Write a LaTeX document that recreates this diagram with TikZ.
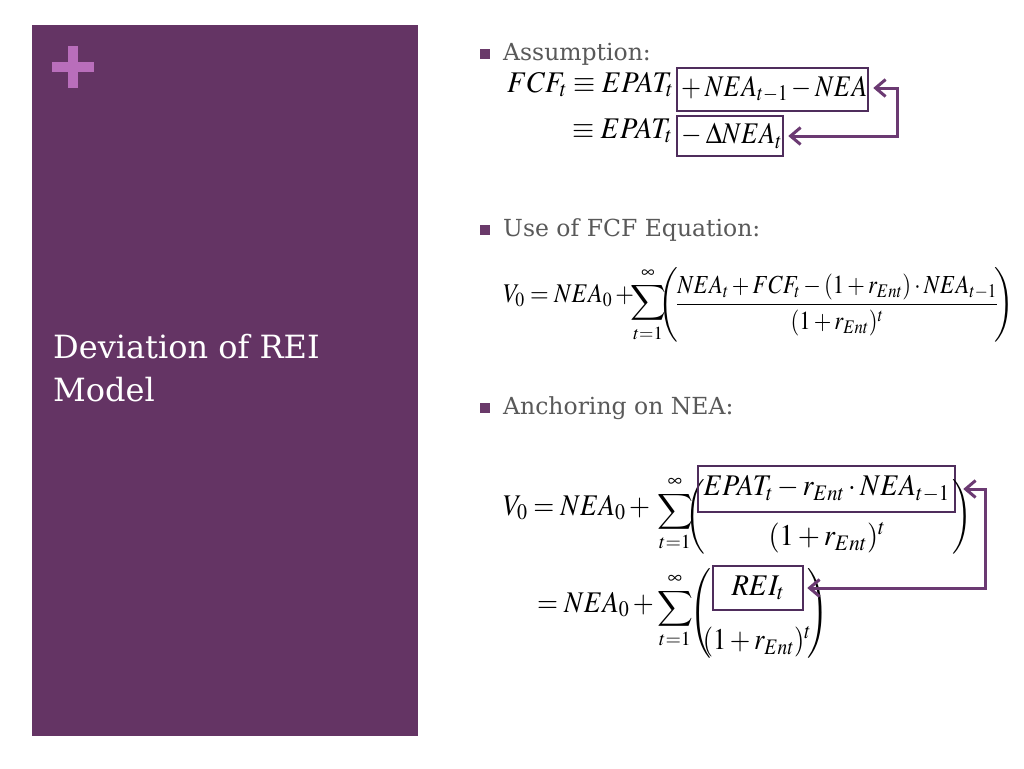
\documentclass[tikz,border=0pt]{standalone}
\usepackage{mathptmx}
\usepackage{exscale}
\usepackage{amsmath}
\usepackage[no-math]{fontspec}
\setmainfont{DejaVu Serif}
\usetikzlibrary{arrows.meta}
\definecolor{panel}{HTML}{643464}
\definecolor{plusc}{HTML}{B96EBB}
\definecolor{boxc}{HTML}{4F2D5C}
\definecolor{arrc}{HTML}{6B3A72}
\definecolor{bulc}{HTML}{6A3A6A}
\definecolor{textgray}{HTML}{595959}
\newcommand{\sqz}[2]{\scalebox{#1}[1]{#2}}
\newcommand{\bigsum}{\displaystyle\sum_{\scriptscriptstyle t=1}^{\scriptscriptstyle\infty}}
\tikzset{
  mathnode/.style={inner sep=0pt, font=\fontsize{30}{36}\selectfont},
  eqbox/.style={draw=boxc, line width=2.5pt, inner sep=0pt, font=\fontsize{30}{36}\selectfont},
  linkarrow/.style={draw=arrc, line width=3pt, {Straight Barb[length=10pt,width=17pt]}-{Straight Barb[length=10pt,width=17pt]}},
  bulletsq/.style={fill=bulc, minimum size=10pt, inner sep=0pt},
  bullettext/.style={text=textgray, font=\fontsize{23.5}{28}\selectfont, anchor=base west, inner sep=0pt},
}
\begin{document}
\begin{tikzpicture}[x=1pt, y=-1pt]
\useasboundingbox (0,0) rectangle (1024,768);
\fill[white] (0,0) rectangle (1024,768);
% left panel
\fill[panel] (31.5,25.5) rectangle (418,736);
\fill[plusc] (52,62) rectangle (94,72);
\fill[plusc] (68,46) rectangle (78,88);
\node[text=white, font=\fontsize{32}{43}\selectfont, align=left, anchor=north west, inner sep=0pt] (title) at (53,334) {Deviation of REI\\Model};
% bullets
\node[bulletsq] (b1) at (485,54) {};
\node[bullettext] (t1) at (503,60) {Assumption:};
\node[bulletsq] (b2) at (485,230) {};
\node[bullettext] (t2) at (503,236) {Use of FCF Equation:};
\node[bulletsq] (b3) at (485,408) {};
\node[bullettext] (t3) at (503,414) {Anchoring on NEA:};
% equation 1
\node[mathnode, anchor=base west] (e1a) at (507,92) {\sqz{0.95}{$FCF_t \equiv EPAT_t$}};
\node[eqbox, minimum width=191pt, minimum height=43pt] (box1) at (772.5,89.5) {\sqz{0.86}{${}+NEA_{t-1}-NEA$}};
\node[mathnode, anchor=base west] (e1b) at (572,138) {\sqz{0.95}{$\equiv EPAT_t$}};
\node[eqbox, minimum width=106pt, minimum height=40pt] (box2) at (730,136) {\sqz{0.88}{${}-\Delta NEA_t$}};
\coordinate (j1) at (897,88);
\draw[linkarrow] ([xshift=4pt]box1.east |- j1) -- (j1) |- ([xshift=4pt]box2.east);
% equation 2
\node[mathnode, anchor=base west, font=\fontsize{27}{32}\selectfont] (lhs2) at (503,302) {\sqz{0.89}{$V_0 = NEA_0 + {}$}};
\node[mathnode, font=\fontsize{25}{30}\selectfont] (sum2) at (648,305) {$\displaystyle\sum_{t=1}^{\infty}$};
\node[mathnode, font=\fontsize{26}{32}\selectfont] (lp2) at (668,305) {$\Biggl($};
\node[mathnode, font=\fontsize{26}{32}\selectfont] (frac2) at (837,305)
  {\sqz{0.87}{$\dfrac{NEA_t + FCF_t - (1+r_{Ent})\cdot NEA_{t-1}}{(1+r_{Ent})^{t}}$}};
\node[mathnode, font=\fontsize{26}{32}\selectfont] (rp2) at (1004,305) {$\Biggr)$};
% equation 3
\node[mathnode, anchor=base west] (lhs3) at (503,515) {\sqz{0.9}{$V_0 = NEA_0 + {}$}};
\node[mathnode, font=\fontsize{33}{40}\selectfont] (sum3) at (675,514) {$\bigsum$};
\node[mathnode] (lp3) at (695,517) {$\biggl($};
\node[eqbox, minimum width=257pt, minimum height=46pt] (box3) at (826.5,489) {\sqz{0.925}{$EPAT_t - r_{Ent}\cdot NEA_{t-1}$}};
\node[mathnode] (den3) at (827,538) {\sqz{0.95}{$(1+r_{Ent})^{t}$}};
\node[mathnode] (rp3) at (962,517) {$\biggr)$};
% equation 4
\node[mathnode, anchor=base west] (lhs4) at (537,612) {\sqz{0.9}{$= NEA_0 + {}$}};
\node[mathnode, font=\fontsize{33}{40}\selectfont] (sum4) at (675,611) {$\bigsum$};
\node[mathnode] (lp4) at (700,613) {$\Biggl($};
\node[eqbox, minimum width=90pt, minimum height=44pt] (box4) at (758,588) {\sqz{0.95}{$REI_t$}};
\node[mathnode] (den4) at (757,642) {\sqz{0.88}{$(1+r_{Ent})^{t}$}};
\node[mathnode] (rp4) at (818,613) {$\Biggr)$};
\coordinate (j2) at (985,489);
\draw[linkarrow] ([xshift=7pt]box3.east |- j2) -- (j2) |- ([xshift=3pt]box4.east);
\end{tikzpicture}
\end{document}
